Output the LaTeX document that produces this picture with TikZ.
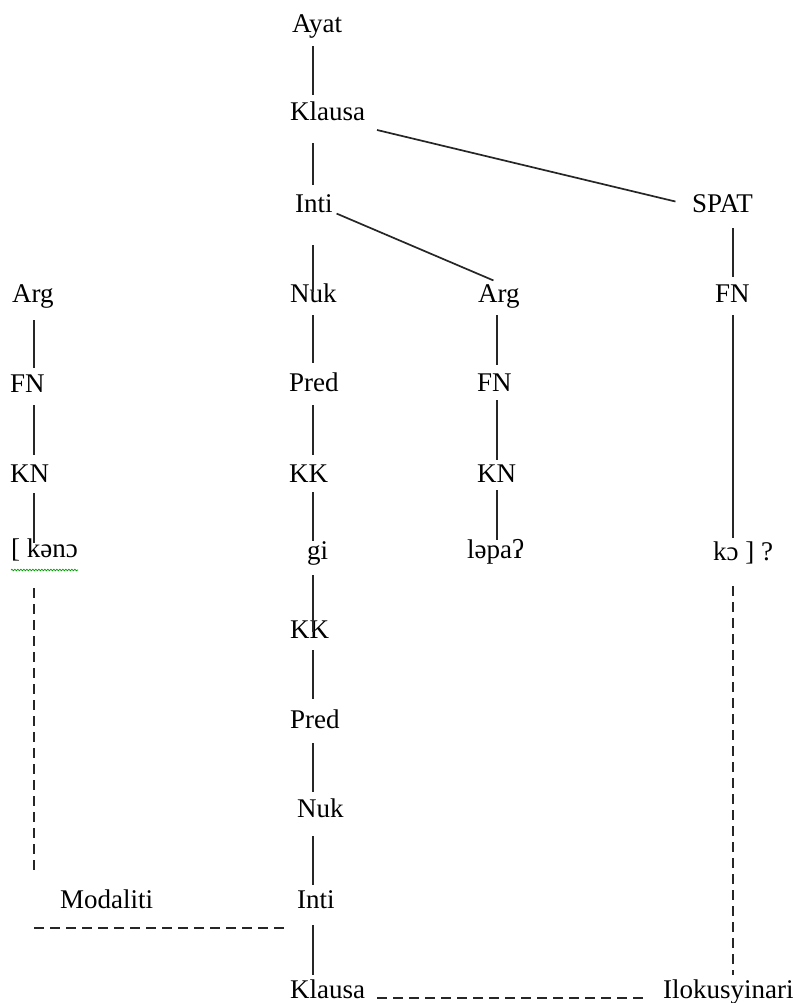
\documentclass[tikz,border=0pt]{standalone}
\usepackage{fontspec}
\setmainfont{Liberation Serif}
\usetikzlibrary{positioning,calc,decorations.pathmorphing}

\begin{document}
\begin{tikzpicture}[
    x=1pt, y=-1pt,
    font=\fontsize{27}{32}\selectfont,
    lbl/.style={inner sep=0pt, text height=19pt, text depth=6pt, anchor=base west},
    tie/.style={line width=1.7pt, black!85, shorten <=7pt, shorten >=7pt},
    link/.style={tie, dash pattern=on 10pt off 6pt},
    squiggle/.style={green!60!black, line width=0.7pt, decorate, decoration={snake, amplitude=0.8pt, segment length=3pt}}
]
    \useasboundingbox (0,0) rectangle (798,1003);

    % column axes for the vertical branches
    \coordinate (colL) at (34,0);
    \coordinate (colM) at (313,0);
    \coordinate (colA) at (497,0);
    \coordinate (colR) at (733,0);

    % upper tree
    \node[lbl] (ayat) at (292,33) {Ayat};
    \node[lbl] (klausa) at (290,121) {Klausa};
    \node[lbl] (inti) at (295,212) {Inti};
    \node[lbl] (spat) at (692,212) {SPAT};

    \node[lbl] (argL) at (12,302) {Arg};
    \node[lbl] (nuk) at (290,302) {Nuk};
    \node[lbl] (argM) at (478,302) {Arg};
    \node[lbl] (fnR) at (715,302) {FN};

    \node[lbl] (fnL) at (10,392) {FN};
    \node[lbl] (pred) at (289,391) {Pred};
    \node[lbl] (fnM) at (477,391) {FN};

    \node[lbl] (knL) at (10,482) {KN};
    \node[lbl] (kk) at (289,482) {KK};
    \node[lbl] (knM) at (477,482) {KN};

    % the sentence itself
    \node[lbl] (kono) at (11,557) {[ kənɔ};
    \node[lbl] (gi) at (307,559) {gi};
    \node[lbl] (lopa) at (467,558) {ləpaʔ};
    \node[lbl] (ko) at (713,560) {kɔ ] ?};

    % lower tree (operators)
    \node[lbl] (kk2) at (290,638) {KK};
    \node[lbl] (pred2) at (290,728) {Pred};
    \node[lbl] (nuk2) at (297,817) {Nuk};
    \node[lbl] (inti2) at (297,908) {Inti};
    \node[lbl] (modal) at (60,908) {Modaliti};
    \node[lbl] (klausa2) at (290,998) {Klausa};
    \node[lbl] (iloku) at (663,998) {Ilokusyinari};

    \draw[squiggle] ([yshift=-13pt]kono.base west) -- ([yshift=-13pt]kono.base east);

    % middle column
    \draw[tie] (ayat.south -| colM) -- (klausa.north -| colM);
    \draw[tie, shorten <=16pt, shorten >=8pt] (klausa.south -| colM) -- (inti.north -| colM);
    \draw[tie, shorten <=27pt, shorten >=-9pt] (inti.south -| colM) -- (nuk.north -| colM);
    \draw[tie, shorten >=9pt] (nuk.south -| colM) -- (pred.north -| colM);
    \draw[tie, shorten <=8pt, shorten >=8pt] (pred.south -| colM) -- (kk.north -| colM);
    \draw[tie, shorten <=4pt, shorten >=-1pt] (kk.south -| colM) -- (gi.north -| colM);
    \draw[tie, shorten <=10pt, shorten >=-13pt] (gi.south -| colM) -- (kk2.north -| colM);
    \draw[tie, shorten <=6pt, shorten >=10pt] (kk2.south -| colM) -- (pred2.north -| colM);
    \draw[tie, shorten <=9pt, shorten >=6pt] (pred2.south -| colM) -- (nuk2.north -| colM);
    \draw[tie, shorten <=13pt, shorten >=4pt] (nuk2.south -| colM) -- (inti2.north -| colM);
    \draw[tie, shorten <=11pt, shorten >=4pt] (inti2.south -| colM) -- (klausa2.north -| colM);

    % branches off the top
    \draw[tie, shorten <=12pt, shorten >=17pt] (klausa.south east) -- (spat.west);
    \draw[tie, shorten <=4pt, shorten >=6pt] (inti.base east) -- (argM.north);

    % left column
    \draw[tie, shorten <=12pt, shorten >=5pt] (argL.south -| colL) -- (fnL.north -| colL);
    \draw[tie, shorten >=8pt] (fnL.south -| colL) -- (knL.north -| colL);
    \draw[tie, shorten <=5pt, shorten >=-5pt] (knL.south -| colL) -- (kono.north -| colL);

    % argument column
    \draw[tie] (argM.south -| colA) -- (fnM.north -| colA);
    \draw[tie, shorten <=3pt, shorten >=3pt] (fnM.south -| colA) -- (knM.north -| colA);
    \draw[tie, shorten <=2pt, shorten >=-1pt] (knM.south -| colA) -- (lopa.north -| colA);

    % right column
    \draw[tie, shorten <=10pt, shorten >=6pt] (spat.south -| colR) -- (fnR.north -| colR);
    \draw[tie, shorten >=3pt] (fnR.south -| colR) -- (ko.north -| colR);

    % operator scope lines
    \coordinate (modfoot) at (34,928);
    \draw[link, shorten <=25pt, shorten >=19pt] (kono.south -| colL) -- (modal.north -| colL);
    \draw[link, shorten <=0pt] (modfoot) -- (modfoot -| inti2.west);
    \draw[link, shorten <=20pt, shorten >=4pt] (ko.south -| colR) -- (iloku.north -| colR);
    \draw[link, shorten <=12pt, shorten >=16pt] (klausa2.base east) -- (iloku.base west);
\end{tikzpicture}
\end{document}
